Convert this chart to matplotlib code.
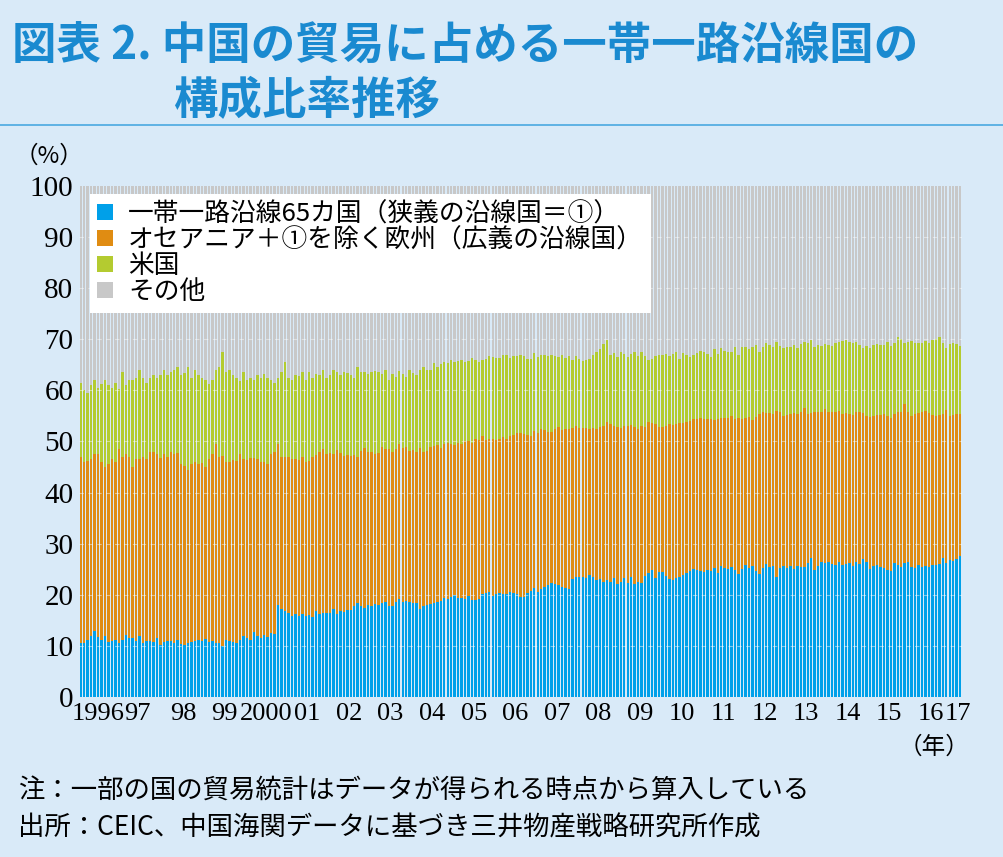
import numpy as np
import matplotlib.pyplot as plt

plt.rcParams['font.family'] = ['Noto Sans CJK JP', 'DejaVu Sans']

# monthly readings, Jan 1996 - Mar 2017 (%), cumulative tops of each band
belt_top = [
    10.5,10.6,11.2,12,13,11.8,11.2,12,10.8,11,11.2,10.5,
    11.2,12.2,11.6,11.5,11,12,10.5,11,11,10.8,11.5,10.2,
    10.8,10.9,11,10.5,11.2,10.3,10.2,10.5,10.8,11,11.2,11,
    11.3,10.8,11,10.5,10.6,10,11.2,11,10.8,10.5,11.2,12,
    11.6,11.2,12.8,12,11.6,12.2,11.8,12.5,12.3,18,17.2,16.8,
    16.5,15.8,16.2,15.8,16.2,15.8,16,15.6,16.8,16.2,16.5,16.4,
    16.5,17.2,16.2,16.8,16.6,17,17,17.8,18.4,17.8,17.4,18,
    17.8,18.2,18,18.4,18.6,17.8,17.8,18.6,19.2,18.6,18.8,18.5,
    18.4,18.4,17.2,17.8,18,18.2,18.4,18.6,18.8,19.4,19.2,19.6,
    20,19.4,19.4,19.2,19.8,19,19,19.2,20.2,20.4,20.5,19.8,
    20.2,20.4,20.1,20.2,20.6,20.4,20.2,19.6,19.5,20.4,20.8,21.4,
    20.6,21.2,21.5,22,22.4,22.2,22,21.6,21.4,21.2,23,23.4,
    23.5,23.5,23.2,23.8,23.4,22.8,23,22.6,22.8,22.6,23.2,22.2,
    22.6,23.2,22.4,23.4,22.2,22.6,22.4,23.6,24.2,24.8,23.2,24.4,
    24.4,23.6,23,22.8,23.2,23.4,23.8,24.3,24.6,25,24.8,24.6,
    24.5,24.8,24.6,25.2,24.2,25.6,25.2,25,25.4,24.8,24,25,
    25.8,25.2,25.6,24.6,24,25.2,26,25.4,25.6,23.4,25.2,25.6,
    25.2,25.6,25,25.6,25.4,25.4,26.2,27.2,24.8,25.6,26.4,26.2,
    26.4,26,25.8,26.4,25.8,26,26.2,25.6,26.4,26,27,26.4,
    25,25.6,25.8,25.4,25.2,24.8,24.6,26.2,25.8,25.4,26.2,26.4,
    25.4,25.2,25.8,25.4,25.6,25.4,25.8,25.8,26,27.2,26.2,26.8,
    26.6,27,27.6]
wide_top = [
    47,46,46.2,46.5,47.5,47.5,46,45,45.5,46.5,46,48.5,
    47,47.5,47,45,46.5,46.5,47,46.5,48,48,47.5,46.8,
    47.5,47,48,47.5,47.8,45.5,45.2,44.5,45.5,46,45.5,45.8,
    45,46.5,47.5,49.5,47,47.2,46,46,46.4,46.2,47.5,46.5,
    46.4,46.7,46.8,46.5,46,46,45.5,47.5,48,49.5,47,47,
    47,46.6,46.5,46.3,47,46,46.2,47,47.4,48,48.6,47.6,
    47.8,47.5,48.4,47.8,47.2,47.4,47.2,47.4,47,48.2,48.8,47.9,
    48,47.5,47.8,49,48.6,48.6,48,48.6,49.6,48.8,49,48.2,
    48.4,48,48.8,48,48.2,49,49.2,49.4,48.8,49.6,49.8,49.5,
    49.4,49.8,49.6,50,50,49.8,50.4,50.2,51,50.2,50.4,50.5,
    50.2,50.5,50.8,50.5,51,51.2,51.6,51.6,51.4,51.2,51,52,
    51.7,52.4,52.2,51.8,51.8,52.4,52.8,52.2,52.4,52.4,52.6,53,
    52.6,52.6,52.6,52.5,52.6,52.4,52.8,53,53.8,53.5,53,52.8,
    52.6,53,53,53.2,52.8,52.5,53,52.8,53.8,53.7,53.5,52.8,
    52.8,53,53.4,53.2,53.4,53.6,53.6,53.8,54,54.4,54.4,54.6,
    54.4,54.4,54.4,54.2,54.4,54.5,54.6,54.5,55,54.4,54.5,54.4,
    54.6,54.8,54.2,54.8,55.4,55.8,55.6,55.5,55.4,56,55.8,55,
    55.2,55.3,55.6,55.4,55.8,56.6,55.4,55.5,55.8,55.8,55.8,56.4,
    55.8,55.8,55.8,56,55.4,55.6,55.4,55.2,55.8,55.8,55.6,55,
    54.8,55,55.2,55.2,55.4,55,54.6,55.4,55.8,55.8,57.4,55.8,
    55,55.4,55.6,55.8,56,55.6,55.2,55,55.2,55.4,56.2,55,
    55.2,55.4,55.4]
us_top = [
    61.5,60,59.5,61,62,60.5,61.2,62,61,60.5,61.5,60.2,
    63.5,61,62,62,62.5,64,62.4,61.5,62.5,63,62.5,63,
    64,63,63.5,64,64.5,63,63.4,64.5,62.5,64,63,62.5,
    62,61.2,62,64,64.5,67.5,63.5,64,63,62.5,61.8,63.5,
    62,62.4,62,63,62.5,63.2,62.5,62,61.5,62.5,63.5,65.5,
    62.5,62,63,62.8,63.5,62,63.5,62.5,63.2,63,64,62.4,
    63,64,63.5,63,63.6,63.4,63,62.5,64.5,63.6,63.5,63.2,
    63.6,63.8,63.6,63.2,64,62,63.2,62.6,63.8,63.2,62.6,64,
    63.4,63,64,64.5,64,64,65.4,64.5,65.2,65.6,65.3,66,
    65.5,65.7,66,65.6,65.8,66.3,66,65.6,66,66.2,66.8,66.5,
    66.4,66.4,67,67,66.4,66.8,66.8,67,66.8,66.2,66.2,67.4,
    66.6,67,67,66.8,67,66.8,66.5,67,66.4,66.8,66,66.8,
    66.2,65.8,66,66.2,67,67.5,68,69,69.8,67,67.4,66.6,
    67.6,67.2,66.5,67.2,67.6,66.8,67.5,66.8,66,66.2,66.8,67,
    67,67.2,66.8,67.2,67.6,66.2,67.3,67,66.6,67,67.4,67.8,
    67.5,67.2,66.6,68,67.2,68.2,67.8,67.6,67.5,68.5,67,68.5,
    68.4,68,68.5,68.8,67.6,68.5,69.2,68.8,68.4,69.4,68.7,68.3,
    68.5,68.5,68.8,68.2,69,69.5,69.2,69.8,68.4,68.8,68.6,69,
    68.8,68.7,69.3,69.4,69.6,69.8,69.4,69.2,69.4,68.8,68.2,68.6,
    68.2,68.8,69,68.8,68.8,69.4,68.6,69.2,70.5,70,69.2,69.4,
    69.6,69.3,69.3,69.2,69.6,69.2,69.8,70,70.4,69.2,68.2,69,
    69.2,69,68.6]
year_labels = ['1996', '97', '98', '99', '2000', '01', '02', '03', '04', '05', '06',
               '07', '08', '09', '10', '11', '12', '13', '14', '15', '16', '17']
legend_labels = ['一帯一路沿線65カ国（狭義の沿線国＝①）',
                 'オセアニア＋①を除く欧州（広義の沿線国）', '米国', 'その他']
colors = ['#00a0e9', '#e08c12', '#b4cb30', '#c8c8c8']

belt = np.array(belt_top)
wide = np.array(wide_top)
us = np.array(us_top)
n = len(belt)
x = np.arange(n)

bg = '#d9eaf8'
fig = plt.figure(figsize=(10.04, 8.57), dpi=100, facecolor=bg)
ax = fig.add_axes([0.0787, 0.1867, 0.8793, 0.5963])
ax.set_facecolor(bg)

w = 0.7
ax.bar(x, belt, w, color=colors[0], label=legend_labels[0])
ax.bar(x, wide - belt, w, bottom=belt, color=colors[1], label=legend_labels[1])
ax.bar(x, us - wide, w, bottom=wide, color=colors[2], label=legend_labels[2])
ax.bar(x, 100 - us, w, bottom=us, color=colors[3], label=legend_labels[3])

for v in range(10, 100, 10):
    ax.axhline(v, color='white', lw=0.8, ls=(0, (4, 4)), alpha=0.45, zorder=3)

ax.set_xlim(-0.5, n - 0.5)
ax.set_ylim(0, 100)
ax.set_yticks(range(0, 101, 10))
ax.set_yticklabels([str(v) for v in range(0, 101, 10)],
                   fontfamily='Liberation Serif', fontsize=21)
ticks = [5.5 + 12 * i for i in range(21)] + [n - 1.5]
ticks[0] = 5.0
ticks[1] = 16.5
ax.set_xticks(ticks)
ax.set_xticklabels(year_labels, fontfamily='Liberation Serif', fontsize=19)
ax.tick_params(length=0, pad=4)
for s in ax.spines.values():
    s.set_visible(False)

leg = ax.legend(loc='upper left', bbox_to_anchor=(0.012, 0.985), fontsize=18.5,
                frameon=True, fancybox=False, edgecolor='white', framealpha=1,
                handlelength=0.6, handleheight=0.6, handletextpad=0.6,
                labelspacing=0.0, borderpad=0.3, borderaxespad=0)
leg.get_frame().set_linewidth(0)

title_c = '#1a8ad0'
fig.text(0.012, 0.945, '図表 2. 中国の貿易に占める一帯一路沿線国の', color=title_c,
         fontsize=32, fontweight='bold', va='center')
fig.text(0.172, 0.882, '構成比率推移', color=title_c, fontsize=32,
         fontweight='bold', va='center')
fig.add_artist(plt.Line2D([0, 1], [0.854, 0.854], color='#4aa8e0', lw=1.2))
fig.text(0.015, 0.818, '（%）', fontsize=17, va='center')
fig.text(0.895, 0.128, '（年）', fontsize=17, va='center')
fig.text(0.018, 0.078, '注：一部の国の貿易統計はデータが得られる時点から算入している',
         fontsize=19, va='center')
fig.text(0.018, 0.034, '出所：CEIC、中国海関データに基づき三井物産戦略研究所作成',
         fontsize=19, va='center')

fig.savefig('out.png', dpi=100, facecolor=bg)
